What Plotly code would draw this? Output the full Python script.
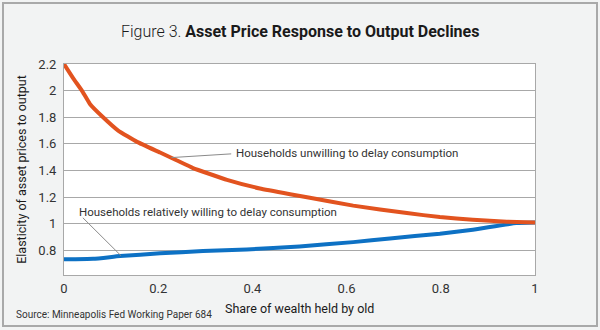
import plotly.graph_objects as go

# Data
share_unwilling = [0, 0.02, 0.038, 0.055, 0.083, 0.115, 0.155, 0.204, 0.24, 0.274,
                   0.346, 0.416, 0.48, 0.522, 0.614, 0.728, 0.798, 0.868, 0.94, 1.0]
elast_unwilling = [2.2, 2.09, 2.0, 1.9, 1.8, 1.7, 1.615, 1.535, 1.475, 1.418,
                   1.33, 1.265, 1.222, 1.195, 1.136, 1.08, 1.05, 1.03, 1.015, 1.01]

share_willing = [0, 0.062, 0.119, 0.204, 0.295, 0.388, 0.5, 0.614, 0.692, 0.798,
                 0.868, 0.96, 1.0]
elast_willing = [0.733, 0.737, 0.757, 0.778, 0.795, 0.807, 0.83, 0.862, 0.89, 0.925,
                 0.955, 1.005, 1.01]

x_ticks = [0, 0.2, 0.4, 0.6, 0.8, 1]
x_tick_labels = ["0", "0.2", "0.4", "0.6", "0.8", "1"]
y_ticks = [0.8, 1, 1.2, 1.4, 1.6, 1.8, 2, 2.2]
y_tick_labels = ["0.8", "1", "1.2", "1.4", "1.6", "1.8", "2", "2.2"]

FONT = "Roboto, Liberation Sans Narrow, sans-serif"
ORANGE = "#e2531f"
BLUE = "#0d71c4"
GRID = "#a8a8a8"
TEXT = "#333333"

L, R, T, B = 64, 65, 64, 55
PW, PH = 600 - L - R, 330 - T - B


def px(xp):
    return (xp - L) / PW


def py(yp):
    return (330 - B - yp) / PH


fig = go.Figure()
fig.add_trace(go.Scatter(x=share_willing, y=elast_willing, mode="lines",
                         line=dict(color=BLUE, width=4, shape="spline", smoothing=0.4),
                         hoverinfo="skip", showlegend=False))
fig.add_trace(go.Scatter(x=share_unwilling, y=elast_unwilling, mode="lines",
                         line=dict(color=ORANGE, width=4, shape="spline", smoothing=0.3),
                         hoverinfo="skip", showlegend=False))

# leader lines
fig.add_shape(type="line", x0=0.228, y0=1.497, x1=0.355, y1=1.525,
              line=dict(color="#8a8a8a", width=1))
fig.add_shape(type="line", x0=0.04, y0=1.045, x1=0.121, y1=0.76,
              line=dict(color="#8a8a8a", width=1))

fig.add_annotation(x=0.36, y=1.53, text="Households unwilling to delay consumption",
                   showarrow=False, xanchor="left", yanchor="middle",
                   font=dict(family=FONT, size=11.5, color=TEXT))
fig.add_annotation(x=0.028, y=1.088, text="Households relatively willing to delay consumption",
                   showarrow=False, xanchor="left", yanchor="middle",
                   font=dict(family=FONT, size=11.5, color=TEXT))

# Title
fig.add_annotation(xref="paper", yref="paper", x=0.5, y=py(31),
                   text="<span style='font-weight:300'>Figure 3. </span><b>Asset Price Response to Output Declines</b>",
                   showarrow=False, xanchor="center", yanchor="middle",
                   font=dict(family=FONT, size=16, color="#1a1a1a"))
# X axis title
fig.add_annotation(xref="paper", yref="paper", x=0.5, y=py(308),
                   text="Share of wealth held by old",
                   showarrow=False, xanchor="center", yanchor="middle",
                   font=dict(family=FONT, size=12.5, color="#1a1a1a"))
# Source
fig.add_annotation(xref="paper", yref="paper", x=px(14), y=py(314),
                   text="Source: Minneapolis Fed Working Paper 684",
                   showarrow=False, xanchor="left", yanchor="middle",
                   font=dict(family=FONT, size=10, color=TEXT))

# Outer frame
fig.add_shape(type="rect", xref="paper", yref="paper",
              x0=px(3), x1=px(597), y0=py(326), y1=py(3),
              line=dict(color="#a9a9a9", width=2), layer="below")

fig.update_layout(
    width=600, height=330,
    margin=dict(l=L, r=R, t=T, b=B),
    paper_bgcolor="#f2f3f3",
    plot_bgcolor="white",
    font=dict(family=FONT, color=TEXT),
)
fig.update_xaxes(range=[0, 1], tickvals=x_ticks, ticktext=x_tick_labels,
                 showgrid=False, zeroline=False, showline=True, mirror=True,
                 linecolor=GRID, linewidth=1, ticks="", ticklabelstandoff=1,
                 tickfont=dict(family=FONT, size=13, color=TEXT))
fig.update_yaxes(range=[0.615, 2.2], tickvals=y_ticks, ticktext=y_tick_labels,
                 showgrid=True, gridcolor=GRID, gridwidth=1, zeroline=False,
                 showline=True, mirror=True, linecolor=GRID, linewidth=1,
                 ticks="", ticklabelstandoff=4,
                 tickfont=dict(family=FONT, size=13, color=TEXT),
                 title=dict(text="Elasticity of asset prices to output", standoff=8,
                            font=dict(family=FONT, size=12.5, color="#1a1a1a")))

fig.write_html("out.html")
